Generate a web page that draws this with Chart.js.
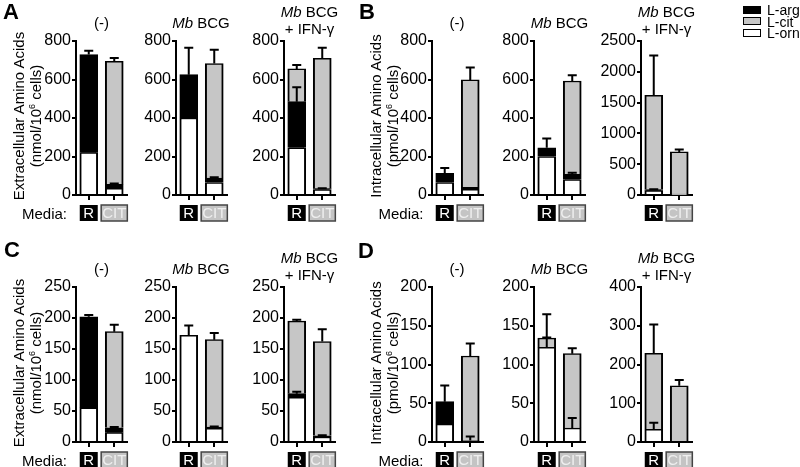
<!DOCTYPE html>
<html><head><meta charset="utf-8">
<script src="https://cdn.jsdelivr.net/npm/chart.js@4.4.1/dist/chart.umd.min.js"></script>
<style>
html,body{margin:0;padding:0;}
body{width:800px;height:467px;background:#fff;position:relative;overflow:hidden;font-family:"Liberation Sans",Arial,Helvetica,sans-serif;color:#000;}
canvas{position:absolute;}
.t{position:absolute;white-space:nowrap;transform:translate(-50%,-50%);line-height:17px;text-align:center;}
.sup{font-size:9px;position:relative;top:-6px;line-height:0;}
</style></head><body>
<script>
// ---------------- data ----------------
const media = ['R', 'CIT'];
const conditions = ['(-)', 'Mb BCG', 'Mb BCG\n+ IFN-γ'];
const seriesNames = ['L-orn', 'L-arg', 'L-cit'];   // stacking order, bottom to top
const legendNames = ['L-arg', 'L-cit', 'L-orn'];

// A: extracellular amino acids (nmol/10^6 cells), per condition [R, CIT]
const A_orn = [[220, 35], [400, 65], [245, 28]];
const A_arg = [[510, 20], [225, 23], [240, 5]];
const A_cit = [[0, 640], [0, 595], [170, 677]];
const A_ornErr = [[0, 0], [0, 0], [0, 0]];
const A_argErr = [[20, 5], [140, 4], [75, 2]];
const A_citErr = [[0, 17], [0, 72], [20, 55]];
const A_yMax = [800, 800, 800];
const A_yStep = [200, 200, 200];

// B: intracellular amino acids (pmol/10^6 cells)
const B_orn = [[65, 30], [200, 80], [70, 10]];
const B_arg = [[47, 10], [45, 28], [20, 0]];
const B_cit = [[0, 558], [0, 484], [1530, 690]];
const B_ornErr = [[0, 0], [0, 0], [0, 0]];
const B_argErr = [[28, 0], [48, 8], [5, 0]];
const B_citErr = [[0, 64], [0, 30], [645, 40]];
const B_yMax = [800, 800, 2500];
const B_yStep = [200, 200, 500];

// C: extracellular amino acids (nmol/10^6 cells)
const C_orn = [[55, 15], [172, 22], [72, 8]];
const C_arg = [[147, 8], [0, 2], [6, 2]];
const C_cit = [[0, 155], [0, 141], [117, 152]];
const C_ornErr = [[0, 0], [16, 0], [0, 0]];
const C_argErr = [[3, 1], [0, 1], [3, 1]];
const C_citErr = [[0, 11], [0, 11], [2, 20]];
const C_yMax = [250, 250, 250];
const C_yStep = [50, 50, 50];

// D: intracellular amino acids (pmol/10^6 cells)
const D_orn = [[23, 2], [122, 18], [33, 0]];
const D_arg = [[29, 0], [0, 0], [0, 0]];
const D_cit = [[0, 109], [12, 96], [196, 145]];
const D_ornErr = [[0, 5], [13, 13], [17, 0]];
const D_argErr = [[21, 0], [0, 0], [0, 0]];
const D_citErr = [[0, 16], [31, 7], [74, 15]];
const D_yMax = [200, 200, 400];
const D_yStep = [50, 50, 100];

// ---------------- layout / style ----------------
const FONT = '"Liberation Sans", Arial, Helvetica, sans-serif';
const segColors = {'L-orn': '#ffffff', 'L-arg': '#000000', 'L-cit': '#c6c6c6'};
const extTitle = ['Extracellular Amino Acids', '(nmol/10<span class="sup">6</span> cells)'];
const intTitle = ['Intracellular Amino Acids', '(pmol/10<span class="sup">6</span> cells)'];

const panels = [
  {letter: 'A', d: [A_orn, A_arg, A_cit], e: [A_ornErr, A_argErr, A_citErr], yMax: A_yMax, yStep: A_yStep,
   lefts: [76, 175.5, 284], top: 41, h: 154, yTitle: extTitle, ytx: 26.5, lx: 11, ly: 11, mx: 44.5},
  {letter: 'B', d: [B_orn, B_arg, B_cit], e: [B_ornErr, B_argErr, B_citErr], yMax: B_yMax, yStep: B_yStep,
   lefts: [431.5, 534, 641], top: 41, h: 154, yTitle: intTitle, ytx: 384, lx: 367, ly: 11, mx: 401},
  {letter: 'C', d: [C_orn, C_arg, C_cit], e: [C_ornErr, C_argErr, C_citErr], yMax: C_yMax, yStep: C_yStep,
   lefts: [76, 175.5, 284], top: 287, h: 155, yTitle: extTitle, ytx: 26.5, lx: 12, ly: 249, mx: 44.5},
  {letter: 'D', d: [D_orn, D_arg, D_cit], e: [D_ornErr, D_argErr, D_citErr], yMax: D_yMax, yStep: D_yStep,
   lefts: [431.5, 534, 641], top: 287, h: 155, yTitle: intTitle, ytx: 384, lx: 366, ly: 250, mx: 401},
];

const PLOT_W = 51, YW = 50, PADT = 12, XH = 32, PADR = 10;

function addText(html, cx, cy, style) {
  const el = document.createElement('div');
  el.className = 't';
  el.innerHTML = html;
  el.style.left = cx + 'px';
  el.style.top = cy + 'px';
  Object.assign(el.style, style || {});
  document.body.appendChild(el);
  return el;
}

const errorBarPlugin = {
  id: 'errbars',
  afterDatasetsDraw(chart) {
    const ctx = chart.ctx, xs = chart.scales.x, ys = chart.scales.y;
    const ds = chart.data.datasets;
    ctx.save();
    ctx.strokeStyle = '#000';
    ctx.lineWidth = 2;
    for (let i = 0; i < chart.data.labels.length; i++) {
      let cum = 0;
      ds.forEach((set) => {
        const v = set.data[i] || 0;
        cum += v;
        const err = set.errs[i] || 0;
        if (v > 0 && err > 0) {
          const x = xs.getPixelForValue(i);
          const y0 = ys.getPixelForValue(cum);
          const y1 = ys.getPixelForValue(cum + err);
          ctx.beginPath();
          ctx.moveTo(x, y0); ctx.lineTo(x, y1);
          ctx.moveTo(x - 4.5, y1); ctx.lineTo(x + 4.5, y1);
          ctx.stroke();
        }
      });
    }
    ctx.restore();
  }
};

const mediaBoxPlugin = {
  id: 'mediaBoxes',
  afterDraw(chart) {
    const ctx = chart.ctx, xs = chart.scales.x, ca = chart.chartArea;
    ctx.save();
    ctx.font = '15px ' + FONT;
    ctx.textAlign = 'center';
    ctx.textBaseline = 'middle';
    chart.data.labels.forEach((lab, i) => {
      const cx = xs.getPixelForValue(i);
      const top = ca.bottom + 10, h = 16;
      const tw = ctx.measureText(lab).width;
      const w = Math.max(18, tw + 2);
      if (i === 0) {
        ctx.fillStyle = '#000';
        ctx.fillRect(cx - w / 2, top, w, h);
        ctx.fillStyle = '#fff';
      } else {
        ctx.fillStyle = '#c4c4c4';
        ctx.fillRect(cx - w / 2, top, w, h);
        ctx.strokeStyle = '#444';
        ctx.lineWidth = 1.5;
        ctx.strokeRect(cx - w / 2, top, w, h);
        ctx.fillStyle = '#efefef';
      }
      ctx.fillText(lab, cx, top + h / 2 + 1);
    });
    ctx.restore();
  }
};

function makeChart(p, k) {
  const plotLeft = p.lefts[k], plotTop = p.top, plotH = p.h;
  const W = YW + PLOT_W + PADR, H = PADT + plotH + XH;
  const canvas = document.createElement('canvas');
  canvas.width = W; canvas.height = H;
  canvas.style.width = W + 'px'; canvas.style.height = H + 'px';
  canvas.style.left = (plotLeft - YW) + 'px';
  canvas.style.top = (plotTop - PADT) + 'px';
  document.body.appendChild(canvas);

  const datasets = seriesNames.map((name, si) => ({
    label: name,
    data: p.d[si][k].map(v => v > 0 ? v : null),
    errs: p.e[si][k],
    backgroundColor: segColors[name],
    borderColor: '#000',
    borderWidth: {top: 1.5, bottom: 0, left: 2, right: 2},
    borderSkipped: false,
    barThickness: 18,
  }));

  const chart = new Chart(canvas, {
    type: 'bar',
    data: {labels: media, datasets},
    options: {
      responsive: false,
      animation: false,
      events: [],
      devicePixelRatio: 1,
      layout: {padding: {top: PADT, right: PADR, left: 0, bottom: 0}},
      plugins: {legend: {display: false}, tooltip: {enabled: false}},
      scales: {
        x: {
          stacked: true,
          offset: true,
          ticks: {display: false},
          grid: {display: true, offset: false, drawOnChartArea: false, drawTicks: true, tickLength: 5, color: '#000', lineWidth: 2},
          border: {display: true, color: '#000', width: 2},
          afterFit: s => { s.height = XH; },
        },
        y: {
          stacked: true,
          min: 0,
          max: p.yMax[k],
          ticks: {stepSize: p.yStep[k], color: '#000', font: {family: FONT, size: 16}, padding: 1,
                  callback: v => String(v)},
          grid: {display: true, drawOnChartArea: false, drawTicks: true, tickLength: 4, color: '#000', lineWidth: 2},
          border: {display: true, color: '#000', width: 2},
          afterFit: s => { s.width = YW; },
        }
      }
    },
    plugins: [errorBarPlugin, mediaBoxPlugin]
  });

  const ca = chart.chartArea;
  canvas.style.left = (plotLeft - ca.left) + 'px';
  canvas.style.top = (plotTop - ca.top) + 'px';

  // condition title
  const cx = plotLeft + PLOT_W / 2;
  const cond = conditions[k];
  const html = cond.replace(/^Mb/, '<i>Mb</i>').replace('\n', '<br>');
  const lines = cond.split('\n').length;
  addText(html, cx, plotTop - (lines > 1 ? 21 : 19), {fontSize: '15px'});
}

panels.forEach(p => {
  for (let k = 0; k < conditions.length; k++) makeChart(p, k);
  addText(p.letter, p.lx, p.ly, {fontSize: '22px', fontWeight: 'bold'});
  addText(p.yTitle.join('<br>'), p.ytx, p.top + p.h / 2 - 2, {fontSize: '15px', transform: 'translate(-50%,-50%) rotate(-90deg)'});
  addText('Media:', p.mx, p.top + p.h + 18, {fontSize: '15px'});
});

// legend
legendNames.forEach((name, i) => {
  const cy = 10 + i * 11.5;
  const box = document.createElement('div');
  Object.assign(box.style, {position: 'absolute', left: '743px', top: (cy - 4.5) + 'px', width: '16px', height: '6px',
    border: '1.5px solid #000', background: segColors[name]});
  document.body.appendChild(box);
  const t = document.createElement('div');
  t.textContent = name;
  Object.assign(t.style, {position: 'absolute', left: '767px', top: (cy - 8) + 'px', fontSize: '14px', lineHeight: '16px', whiteSpace: 'nowrap'});
  document.body.appendChild(t);
});
</script>
</body></html>
